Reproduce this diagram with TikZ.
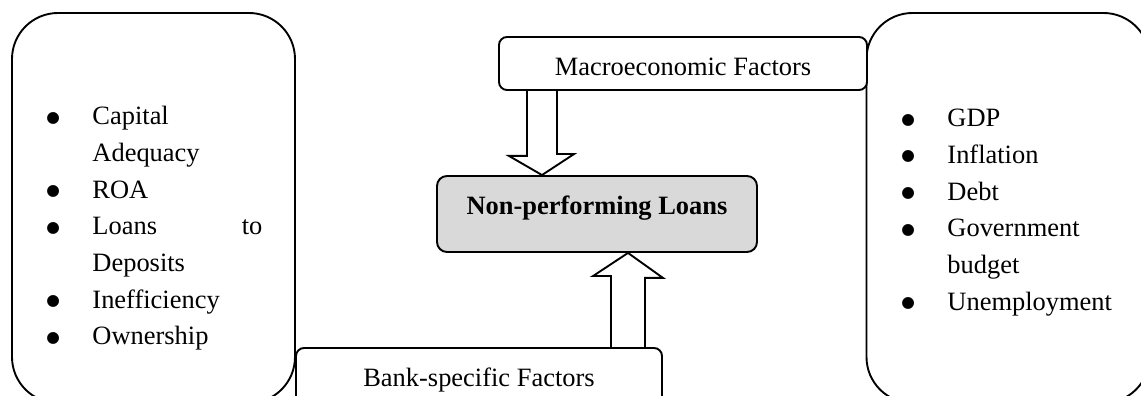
\documentclass[tikz,border=0pt]{standalone}
\usepackage{fontspec}
\setmainfont{Liberation Serif}
\newfontfamily\dotfont{DejaVu Sans}
\usepackage{tikz}
\usetikzlibrary{calc}
\definecolor{NplGray}{HTML}{D9D9D9}
\newcommand{\px}{0.45pt}
\newcommand{\listdot}{\raisebox{1.3pt}{\dotfont\fontsize{7}{8}\selectfont ●}}
\tikzset{
  bodytext/.style={font=\fontsize{11.9}{16.5}\selectfont},
  sidebox/.style={draw,line width=0.85pt,rounded corners=20.7pt,inner sep=0pt,
    minimum width=127.35pt,minimum height=175.5pt},
  factorbox/.style={draw,line width=0.85pt,rounded corners=3.6pt,fill=white,
    inner sep=0pt,bodytext},
  nplbox/.style={draw,line width=0.85pt,rounded corners=4.5pt,fill=NplGray,
    inner sep=0pt,minimum width=144pt,minimum height=34.2pt,
    font=\fontsize{11.9}{16.5}\selectfont\bfseries,text height=8pt,text depth=7.1pt},
  itemlist/.style={bodytext,inner sep=0pt,anchor=base west},
  hollow/.style={draw,line width=0.85pt,line join=miter}
}

\begin{document}
\begin{tikzpicture}[x=\px,y=-\px]
  \clip (0,0) rectangle (1141,396);

  \node[sidebox] (bankside) at (153.5,208) {};
  \node[sidebox] (macroside) at (1008,208) {};

  \node[factorbox,minimum width=165.6pt,minimum height=23.85pt,
    text height=10.4pt,text depth=0pt] (macro) at (683,63.5) {Macroeconomic Factors};
  \node[factorbox,minimum width=164.7pt,minimum height=29.25pt] (bank) at (479,380.5)
    {Bank-specific Factors};
  \node[nplbox] (npl) at (597,214) {Non-performing Loans};

  \node[itemlist] (bankitems) at (46,125) {%
    \begin{tabular}[t]{@{}p{20.7pt}@{}p{76.5pt}@{}}
      \listdot & Capital\\
               & Adequacy\\
      \listdot & ROA\\
      \listdot & \makebox[\linewidth][s]{Loans to}\\
               & Deposits\\
      \listdot & Inefficiency\\
      \listdot & Ownership
    \end{tabular}};
  \node[itemlist] (macroitems) at (901,127) {%
    \begin{tabular}[t]{@{}p{20.7pt}@{}p{76.5pt}@{}}
      \listdot & GDP\\
      \listdot & Inflation\\
      \listdot & Debt\\
      \listdot & Government\\
               & budget\\
      \listdot & Unemployment
    \end{tabular}};

  % hollow arrows into the central box
  \coordinate (dtail) at ([xshift=-141*\px]macro.south);
  \coordinate (dtip) at ([xshift=-55*\px]npl.north);
  \draw[hollow] (dtail) ++(-15,0) -- ++(0,65) -- ++(-18,0) -- (dtip)
    -- ++(32,-21) -- ++(-17,0) -- ++(0,-65);

  \coordinate (utail) at ([xshift=149*\px]bank.north);
  \coordinate (utip) at ([xshift=31*\px]npl.south);
  \draw[hollow] (utail) ++(-17,0) -- ++(0,-71) -- ++(-18,0) -- (utip)
    -- ++(35,25) -- ++(-18,0) -- ++(0,71);
\end{tikzpicture}
\end{document}
